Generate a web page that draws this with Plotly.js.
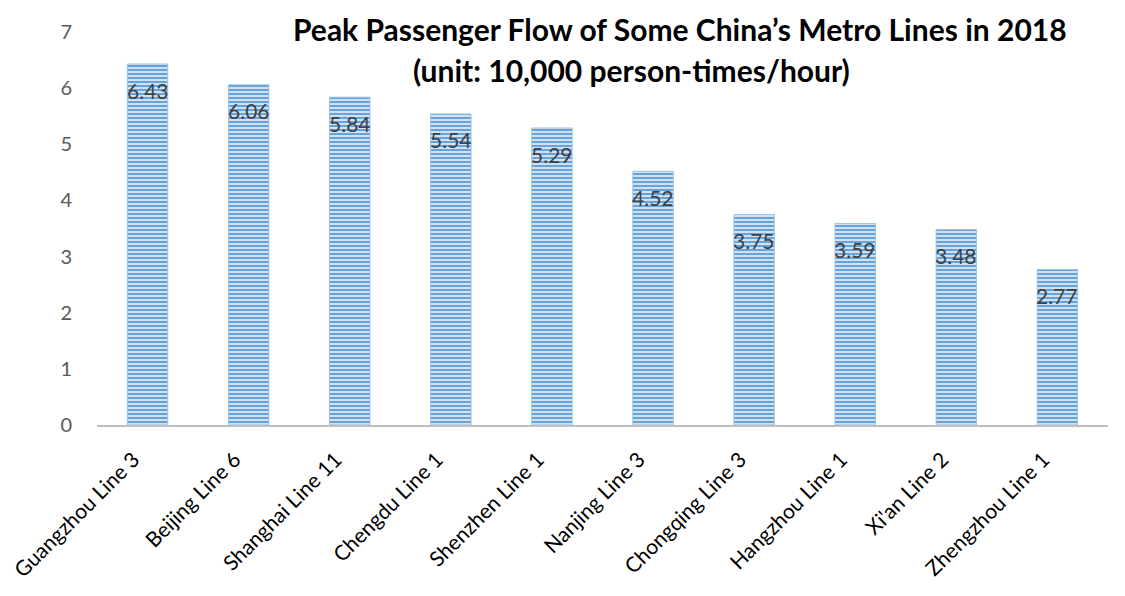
<!DOCTYPE html>
<html><head><meta charset="utf-8">
<script src="https://cdn.plot.ly/plotly-3.0.1.min.js"></script>
<style>body{margin:0;background:#fff}#c{width:1125px;height:596px}</style>
</head><body><div id="c"></div>
<script>
const categories = ["Guangzhou Line 3","Beijing Line 6","Shanghai Line 11","Chengdu Line 1","Shenzhen Line 1","Nanjing Line 3","Chongqing Line 3","Hangzhou Line 1","Xi'an Line 2","Zhengzhou Line 1"];
const values = [6.43,6.06,5.84,5.54,5.29,4.52,3.75,3.59,3.48,2.77];
const titleLine1 = "Peak Passenger Flow of Some China’s Metro Lines in 2018";
const titleLine2 = "(unit: 10,000 person-times/hour)";
const yTicks = [0,1,2,3,4,5,6,7];

const trace = {
  type: 'bar', x: categories, y: values,
  marker: {color: '#bdd7ee', line: {color: '#9dc3e6', width: 1},
    pattern: {shape: '-', fgcolor: '#5b9bd5', bgcolor: '#cfe2f3', size: 4, solidity: 0.45}},
  hoverinfo: 'skip'
};
const annotations = categories.map((c,i)=>({
  x: c, y: values[i], xref: 'x', yref: 'y', text: values[i].toFixed(2),
  showarrow: false, yanchor: 'middle', yshift: -26,
  font: {family: 'Lato, sans-serif', size: 21, color: '#404040'}
}));
annotations.push({xref:'paper', yref:'paper', x:0.577, y:1.0, yshift: 3, text: titleLine1,
  showarrow:false, xanchor:'center', yanchor:'middle', font:{family:'Lato, sans-serif', size:30, color:'#000', weight:'bold'}});
annotations.push({xref:'paper', yref:'paper', x:0.529, y:1.0, yshift:-38, text: titleLine2,
  showarrow:false, xanchor:'center', yanchor:'middle', font:{family:'Lato, sans-serif', size:30, color:'#000', weight:'bold'}});

const layout = {
  width: 1125, height: 596,
  margin: {l: 97, r: 17, t: 32, b: 171},
  paper_bgcolor: '#fff', plot_bgcolor: '#fff',
  showlegend: false, bargap: 0.6,
  xaxis: {type:'category', showline: true, linecolor: '#bfbfbf', linewidth: 2, ticks: '', tickangle: -45,
    ticklabelstandoff: 12, ticklabelshift: -14,
    tickfont: {family: 'Lato, sans-serif', size: 21, color: '#000'}, showgrid: false},
  yaxis: {range: [0, 7], tickvals: yTicks, showgrid: false, zeroline: false, showline: false,
    ticks: 'outside', ticklen: 20, tickcolor: 'rgba(0,0,0,0)',
    tickfont: {family: 'Lato, sans-serif', size: 20, color: '#595959'}},
  annotations: annotations
};
Plotly.newPlot('c', [trace], layout, {displayModeBar: false, staticPlot: true});
</script></body></html>
